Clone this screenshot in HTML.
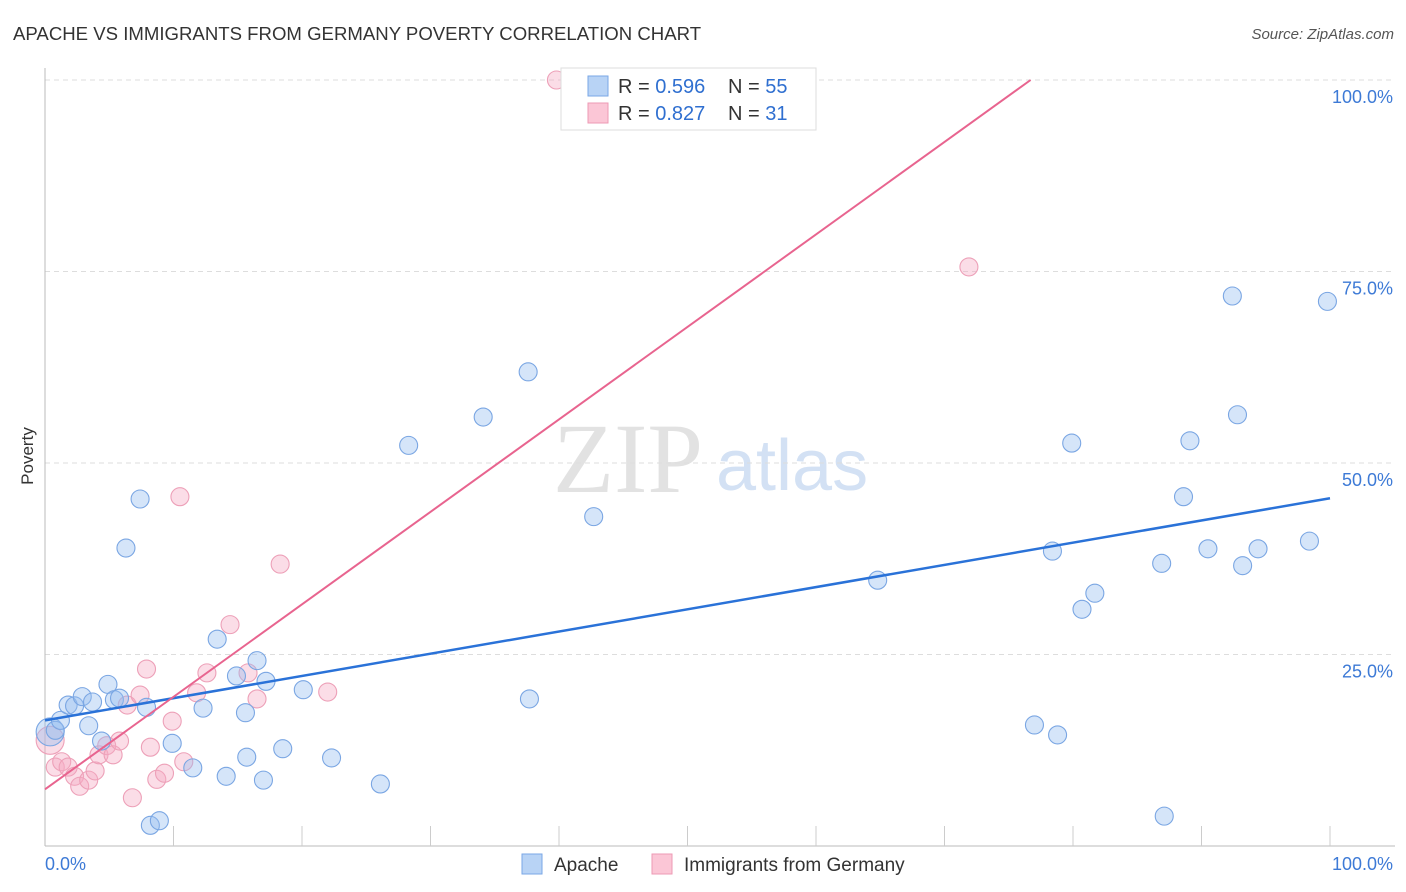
<!DOCTYPE html>
<html><head><meta charset="utf-8"><style>
body{margin:0;background:#fff;font-family:"Liberation Sans",sans-serif}
</style></head><body>
<svg id="chart" width="1406" height="892" xmlns="http://www.w3.org/2000/svg" style="display:block">
<text x="13" y="40" font-size="18.6" fill="#333">APACHE VS IMMIGRANTS FROM GERMANY POVERTY CORRELATION CHART</text>
<text x="1394" y="39" font-size="15" fill="#555" font-style="italic" text-anchor="end">Source: ZipAtlas.com</text>
<text x="553" y="492" font-size="100" font-family="Liberation Serif,serif" fill="#e2e2e2">ZIP</text>
<text x="716" y="490" font-size="72" fill="#d3e1f4">atlas</text>
<text transform="translate(33,456) rotate(-90)" font-size="17" fill="#333" text-anchor="middle">Poverty</text>
<g id="grid"></g><g id="marks"></g>
<g>
<rect x="561" y="68" width="255" height="62" fill="#fff" stroke="#ddd"/>
<rect x="588" y="76" width="20" height="20" fill="#b8d3f5" stroke="#7aa7e6"/>
<rect x="588" y="103" width="20" height="20" fill="#fbc6d6" stroke="#ee9ab4"/>
<text x="618" y="93" font-size="20" fill="#333">R = <tspan fill="#2f6fd0">0.596</tspan></text>
<text x="728" y="93" font-size="20" fill="#333">N = <tspan fill="#2f6fd0">55</tspan></text>
<text x="618" y="120" font-size="20" fill="#333">R = <tspan fill="#2f6fd0">0.827</tspan></text>
<text x="728" y="120" font-size="20" fill="#333">N = <tspan fill="#2f6fd0"> 31</tspan></text>
</g>
<g>
<rect x="522" y="854" width="20" height="20" fill="#b8d3f5" stroke="#7aa7e6"/>
<text x="554" y="871" font-size="19" fill="#333">Apache</text>
<rect x="652" y="854" width="20" height="20" fill="#fbc6d6" stroke="#ee9ab4"/>
<text x="684" y="871" font-size="19" fill="#333">Immigrants from Germany</text>
</g>
</svg>
<script>
const blueX=[0.4,0.8,1.2,1.8,2.3,2.9,3.4,3.7,4.4,4.9,5.4,5.8,6.3,7.4,7.9,8.2,8.9,9.9,11.5,12.3,13.4,14.1,14.9,15.6,15.7,16.5,17.0,17.2,18.5,20.1,22.3,26.1,28.3,34.1,37.6,37.7,42.7,64.8,77.0,78.4,78.8,79.9,80.7,81.7,86.9,87.1,88.6,89.1,90.5,92.4,92.8,93.2,94.4,98.4,99.8];
const blueY=[14.9,15.1,16.4,18.4,18.3,19.5,15.7,18.8,13.7,21.1,19.1,19.3,38.9,45.3,18.1,2.7,3.3,13.4,10.2,18.0,27.0,9.1,22.2,17.4,11.6,24.2,8.6,21.5,12.7,20.4,11.5,8.1,52.3,56.0,61.9,19.2,43.0,34.7,15.8,38.5,14.5,52.6,30.9,33.0,36.9,3.9,45.6,52.9,38.8,71.8,56.3,36.6,38.8,39.8,71.1];
const pinkX=[0.4,0.8,1.3,1.8,2.3,2.7,3.4,3.9,4.2,4.8,5.3,5.8,6.4,6.8,7.4,7.9,8.2,8.7,9.3,9.9,10.5,10.8,11.8,12.6,14.4,15.8,16.5,18.3,22.0,39.8,71.9];
const pinkY=[13.8,10.3,11.0,10.3,9.1,7.8,8.6,9.8,11.9,13.1,11.9,13.7,18.4,6.3,19.7,23.1,12.9,8.7,9.5,16.3,45.6,11.0,20.0,22.6,28.9,22.6,19.2,36.8,20.1,100,75.6];
const yTicks=[25,50,75,100];
const yTickLabels=["25.0%","50.0%","75.0%","100.0%"];
const blueTrend=[16.4,45.4];
const pinkTrend=[7.4,100,76.7];
const NS="http://www.w3.org/2000/svg";
const sx=v=>45+v*12.85, sy=v=>846-v*7.66;
function el(t,a,p){const e=document.createElementNS(NS,t);for(const k in a)e.setAttribute(k,a[k]);p.appendChild(e);return e;}
const grid=document.getElementById('grid'), marks=document.getElementById('marks');
yTicks.forEach((t,i)=>{
 const g=el('line',{x1:45,x2:1395,y1:sy(t),y2:sy(t),stroke:'#ddd','stroke-dasharray':'5,4'},grid);
 
 
 const l=el('text',{x:1393,y:sy(t)+23,'font-size':18,fill:'#3d7ad6','text-anchor':'end'},grid);
 l.textContent=yTickLabels[i];
 
 
});
let ax=el('line',{x1:45,x2:45,y1:68,y2:846,stroke:'#bbb'},grid);


ax=el('line',{x1:45,x2:1395,y1:846,y2:846,stroke:'#bbb'},grid);


for(let k=1;k<=10;k++){const t=el('line',{x1:sx(k*10),x2:sx(k*10),y1:826,y2:846,stroke:'#ccc'},grid);
 
 }
[['0.0%',45,'start'],['100.0%',1393,'end']].forEach(a=>{const t=el('text',{x:a[1],y:870,'font-size':18,fill:'#3d7ad6','text-anchor':a[2]},grid);t.textContent=a[0];
 
 });
function pts(X,Y,fill,stroke,name){X.forEach((x,i)=>{const c=el('circle',{cx:sx(x),cy:sy(Y[i]),r:i==0?14:9,fill:fill,stroke:stroke,'stroke-width':1.1},marks);
 
 });}
pts(pinkX,pinkY,'rgba(245,170,195,0.4)','#eda0b8','immigrants-germany-point');
pts(blueX,blueY,'rgba(150,190,240,0.4)','#7aa6e3','apache-point');
let tl=el('line',{x1:sx(0),y1:sy(blueTrend[0]),x2:sx(100),y2:sy(blueTrend[1]),stroke:'#2a72d8','stroke-width':2.5},marks);


tl=el('line',{x1:sx(0),y1:sy(pinkTrend[0]),x2:sx(pinkTrend[2]),y2:sy(pinkTrend[1]),stroke:'#e8648f','stroke-width':2},marks);


</script>
</body></html>
